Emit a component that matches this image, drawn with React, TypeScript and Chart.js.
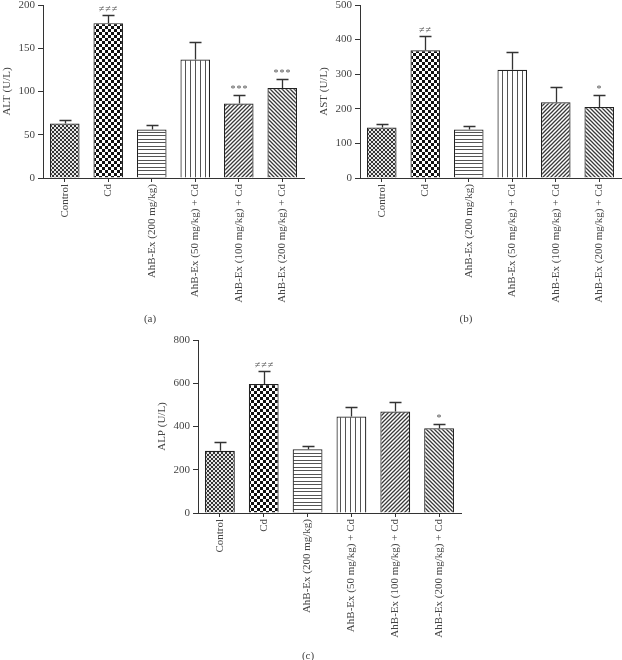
import React, { useEffect, useRef } from "react";
import { Chart, registerables } from "chart.js";
Chart.register(...registerables);

const categories = [
  "Control",
  "Cd",
  "AhB-Ex (200 mg/kg)",
  "AhB-Ex (50 mg/kg) + Cd",
  "AhB-Ex (100 mg/kg) + Cd",
  "AhB-Ex (200 mg/kg) + Cd",
];

const altMean = [63, 179, 56, 137, 86, 104];
const altSD = [4, 10, 5, 20, 10, 10];
const altMarks = ["", "≠≠≠", "", "", "***", "***"];

const astMean = [146, 369, 140, 313, 219, 205];
const astSD = [10, 42, 11, 50, 44, 34];
const astMarks = ["", "≠≠", "", "", "", "*"];

const alpMean = [288, 596, 295, 446, 469, 392];
const alpSD = [40, 61, 15, 42, 43, 19];
const alpMarks = ["", "≠≠≠", "", "", "", "*"];

const patternKinds = ["fineChecker", "checker", "hLines", "vLines", "diagUp", "diagDown"];

const SERIF = "'Liberation Serif', 'DejaVu Serif', serif";
const TEXT = "#444";
const LINE = "#333";

function makePattern(kind: string): CanvasPattern | string {
  const c = document.createElement("canvas");
  const g = c.getContext("2d");
  if (!g) return "#888";
  if (kind === "fineChecker") {
    c.width = 4; c.height = 4;
    g.fillStyle = "#e6e6e6"; g.fillRect(0, 0, 4, 4);
    g.fillStyle = "#353535"; g.fillRect(0, 0, 2, 2); g.fillRect(2, 2, 2, 2);
  } else if (kind === "checker") {
    c.width = 6; c.height = 6;
    g.fillStyle = "#ffffff"; g.fillRect(0, 0, 6, 6);
    g.fillStyle = "#111"; g.fillRect(0, 0, 3, 3); g.fillRect(3, 3, 3, 3);
  } else if (kind === "hLines") {
    c.width = 4; c.height = 7;
    g.fillStyle = "#ffffff"; g.fillRect(0, 0, 4, 7);
    g.fillStyle = "#555"; g.fillRect(0, 0, 4, 1); g.fillRect(0, 3, 4, 1);
  } else if (kind === "vLines") {
    c.width = 5; c.height = 4;
    g.fillStyle = "#ffffff"; g.fillRect(0, 0, 5, 4);
    g.fillStyle = "#555"; g.fillRect(0, 0, 1, 4);
  } else {
    const s = 4;
    c.width = s; c.height = s;
    g.fillStyle = "#ffffff"; g.fillRect(0, 0, s, s);
    g.strokeStyle = "#3a3a3a"; g.lineWidth = 1.3;
    g.beginPath();
    if (kind === "diagUp") {
      g.moveTo(-1, 1); g.lineTo(1, -1);
      g.moveTo(0, s); g.lineTo(s, 0);
      g.moveTo(s - 1, s + 1); g.lineTo(s + 1, s - 1);
    } else {
      g.moveTo(-1, s - 1); g.lineTo(1, s + 1);
      g.moveTo(0, 0); g.lineTo(s, s);
      g.moveTo(s - 1, -1); g.lineTo(s + 1, 1);
    }
    g.stroke();
  }
  const p = g.createPattern(c, "repeat");
  return p || "#888";
}

type PanelProps = {
  left: number; top: number; width: number; height: number;
  yWidth: number; xHeight: number; padTop: number; padRight: number;
  max: number; step: number; title: string;
  mean: number[]; sd: number[]; marks: string[];
};

function Panel(props: PanelProps) {
  const ref = useRef<HTMLCanvasElement>(null);
  useEffect(() => {
    if (!ref.current) return;
    const { mean, sd, marks } = props;
    const fills = patternKinds.map(makePattern);
    const errPlugin = {
      id: "errbars",
      afterDatasetsDraw(chart: any) {
        const meta = chart.getDatasetMeta(0);
        const ys = chart.scales.y;
        const ctx = chart.ctx as CanvasRenderingContext2D;
        ctx.save();
        meta.data.forEach((bar: any, i: number) => {
          const x = Math.round(bar.x) + 0.5;
          const yTop = bar.y;
          const yErr = Math.round(ys.getPixelForValue(mean[i] + sd[i])) + 0.5;
          ctx.strokeStyle = LINE;
          ctx.lineWidth = 1.3;
          ctx.beginPath();
          ctx.moveTo(x, yTop);
          ctx.lineTo(x, yErr);
          ctx.moveTo(x - 6, yErr);
          ctx.lineTo(x + 6, yErr);
          ctx.stroke();
          if (marks[i]) {
            ctx.fillStyle = "#555";
            ctx.font = "10px " + SERIF;
            ctx.textAlign = "center";
            ctx.textBaseline = "bottom";
            try { (ctx as any).letterSpacing = "1px"; } catch (e) {}
            ctx.fillText(marks[i], x, yErr - 1);
          }
        });
        ctx.restore();
      },
    };
    const chart = new Chart(ref.current, {
      type: "bar",
      data: {
        labels: categories,
        datasets: [
          {
            data: mean,
            backgroundColor: fills as any,
            borderColor: "#222",
            borderWidth: 1.2,
            barPercentage: 0.68,
            categoryPercentage: 1,
          },
        ],
      },
      options: {
        animation: false,
        responsive: false,
        devicePixelRatio: 1,
        layout: { padding: { top: props.padTop, right: props.padRight, left: 0, bottom: 0 } },
        plugins: { legend: { display: false }, tooltip: { enabled: false } },
        scales: {
          x: {
            grid: { display: true, drawOnChartArea: false, drawTicks: true, tickLength: 4, offset: false, color: LINE, lineWidth: 1 },
            border: { display: true, color: LINE, width: 1 },
            ticks: { maxRotation: 90, minRotation: 90, autoSkip: false, padding: 2, color: TEXT, font: { family: SERIF, size: 11 } },
            afterFit: (s: any) => { s.height = props.xHeight; s.paddingLeft = 0; s.paddingRight = 0; },
          },
          y: {
            min: 0,
            max: props.max,
            ticks: { stepSize: props.step, padding: 3, color: TEXT, font: { family: SERIF, size: 11 } },
            grid: { drawOnChartArea: false, drawTicks: true, tickLength: 5, color: LINE, lineWidth: 1 },
            border: { display: true, color: LINE, width: 1 },
            title: { display: true, text: props.title, color: TEXT, font: { family: SERIF, size: 11 }, padding: { top: 1, bottom: 0 } },
            afterFit: (s: any) => { s.width = props.yWidth; s.paddingTop = 0; s.paddingBottom = 0; },
          },
        },
      },
      plugins: [errPlugin],
    } as any);
    return () => chart.destroy();
  }, []);
  return (
    <canvas
      ref={ref}
      width={props.width}
      height={props.height}
      style={{ position: "absolute", left: props.left, top: props.top, width: props.width, height: props.height }}
    />
  );
}

const labelStyle = (x: number, y: number): React.CSSProperties => ({
  position: "absolute",
  left: x - 15,
  top: y - 8,
  width: 30,
  textAlign: "center",
  fontFamily: SERIF,
  fontSize: 11,
  color: TEXT,
  lineHeight: "16px",
});

export default function App() {
  return (
    <div style={{ position: "absolute", left: 0, top: 0, width: 622, height: 660, background: "#fff", overflow: "hidden" }}>
      <Panel left={0} top={-1} width={308} height={331} yWidth={43} xHeight={152} padTop={6} padRight={4}
        max={200} step={50} title="ALT (U/L)" mean={altMean} sd={altSD} marks={altMarks} />
      <Panel left={317} top={-1} width={305} height={331} yWidth={43} xHeight={152} padTop={6} padRight={1}
        max={500} step={100} title="AST (U/L)" mean={astMean} sd={astSD} marks={astMarks} />
      <Panel left={155} top={334} width={309} height={326} yWidth={43} xHeight={147} padTop={6} padRight={3}
        max={800} step={200} title="ALP (U/L)" mean={alpMean} sd={alpSD} marks={alpMarks} />
      <div style={labelStyle(150, 318)}>(a)</div>
      <div style={labelStyle(466, 318)}>(b)</div>
      <div style={labelStyle(308, 655)}>(c)</div>
    </div>
  );
}
